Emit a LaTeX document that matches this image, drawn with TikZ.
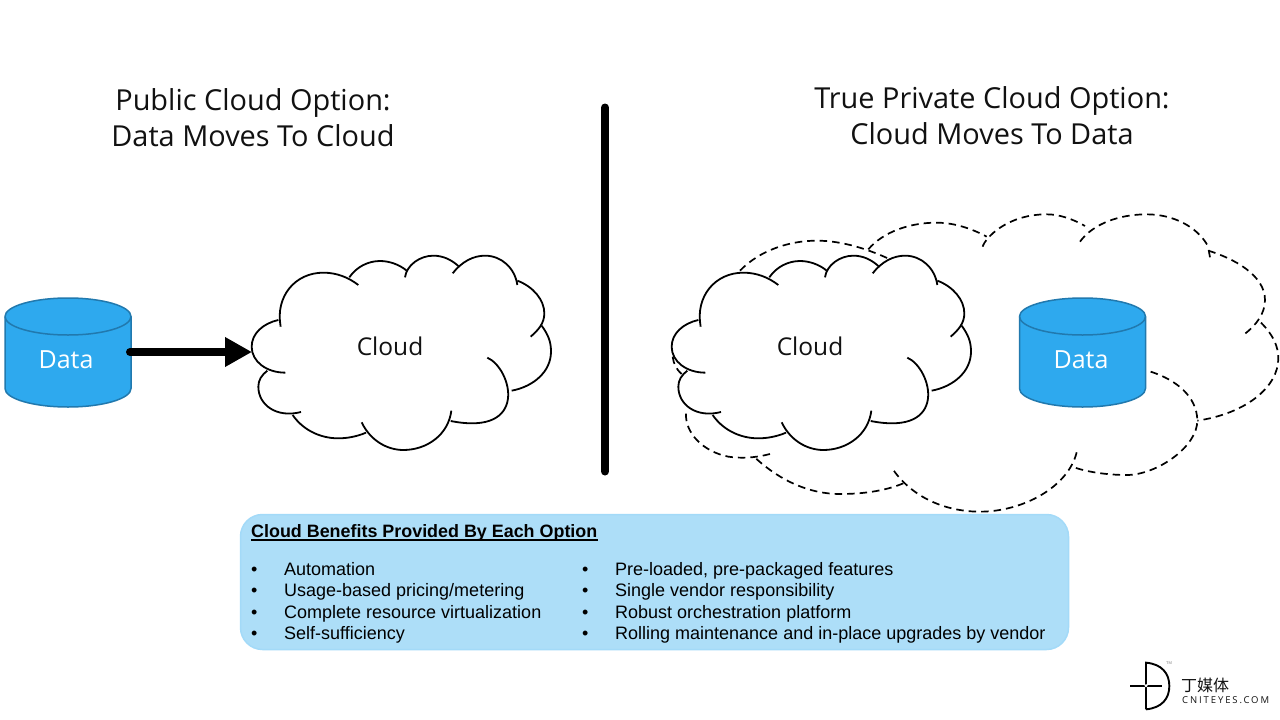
\documentclass[tikz,border=0pt]{standalone}
\usepackage{fontspec}
\setmainfont{Liberation Sans}
\newfontfamily\headfont{Open Sans}
\newfontfamily\cjkfont{Noto Sans CJK SC}
\newfontfamily\spacedfont[LetterSpace=20]{Open Sans}
\usetikzlibrary{arrows.meta}
\definecolor{cylfill}{HTML}{2EA9EE}
\definecolor{cylline}{HTML}{2179AE}
\definecolor{boxfill}{HTML}{ADDEF8}
\definecolor{boxline}{HTML}{A3DAF8}
\definecolor{inktext}{HTML}{111111}
\newcommand{\cloudshape}{%
  \fill[white] (115,240)--(115,210)--(150,130)--(250,98)--(328,112)--(360,80)--(415,63)--(465,72)--(500,92)--(510,75)--(580,47)--(625,55)--(655,78)--(670,65)--(735,47)--(790,65)--(832,122)--(880,150)--(912,210)--(905,257)--(930,300)--(930,360)--(890,420)--(815,452)--(790,510)--(700,555)--(632,543)--(560,620)--(490,630)--(420,610)--(378,578)--(290,595)--(210,575)--(158,525)--(80,505)--(55,440)--(82,392)--(45,355)--(35,320)--(55,265)--cycle;
  \draw[cloudline] (122,260) .. controls (105,170) and (165,98) .. (250,98) .. controls (290,98) and (325,112) .. (355,135);
  \draw[cloudline] (328,112) .. controls (350,80) and (385,63) .. (420,63) .. controls (450,63) and (480,75) .. (500,92);
  \draw[cloudline] (495,112) .. controls (500,75) and (540,47) .. (580,47) .. controls (610,47) and (635,60) .. (655,78);
  \draw[cloudline] (638,100) .. controls (665,65) and (700,47) .. (735,47) .. controls (785,47) and (825,85) .. (832,135);
  \draw[cloudline] (832,122) .. controls (880,140) and (913,180) .. (913,220) .. controls (913,250) and (895,270) .. (872,290);
  \draw[cloudline] (905,257) .. controls (925,285) and (933,305) .. (933,335) .. controls (933,395) and (880,440) .. (815,452);
  \draw[cloudline] (742,353) .. controls (815,385) and (870,590) .. (632,543);
  \draw[cloudline] (634,512) .. controls (625,585) and (560,630) .. (490,630) .. controls (440,630) and (390,600) .. (365,547);
  \draw[cloudline] (378,578) .. controls (350,590) and (320,595) .. (295,595) .. controls (235,595) and (185,565) .. (158,525);
  \draw[cloudline] (183,516) .. controls (110,535) and (55,495) .. (55,440) .. controls (55,420) and (65,405) .. (82,392);
  \draw[cloudline] (136,398) .. controls (80,398) and (35,365) .. (35,320) .. controls (35,280) and (70,250) .. (115,240);
}
\newcommand{\cylshape}{%
  \draw[cylstyle] (0,18.5) -- (0,90.5) arc[start angle=180,end angle=0,x radius=63,y radius=18.5] -- (126,18.5) arc[start angle=0,end angle=-180,x radius=63,y radius=18.5] -- cycle;
  \draw[cylstyle,fill=none] (0,18.5) arc[start angle=180,end angle=0,x radius=63,y radius=18.5];
}
\tikzset{
  cloudline/.style={line width=1.8pt,black},
  dashline/.style={line width=1.7pt,black,dash pattern=on 7.5pt off 5pt},
  cylstyle/.style={line width=1.5pt,draw=cylline,fill=cylfill},
  heading/.style={font=\headfont\fontsize{28.9}{35}\selectfont,text=inktext,anchor=base,inner sep=0pt},
  cloudlabel/.style={font=\headfont\fontsize{24.5}{30}\selectfont,text=inktext,inner sep=0pt},
  datalabel/.style={font=\headfont\fontsize{25}{30}\selectfont,text=white,inner sep=0pt},
  listtext/.style={font=\fontsize{18}{21}\selectfont,text=black,anchor=base west,inner sep=0pt},
  ghost/.style={inner sep=0pt,outer sep=0pt},
}
\begin{document}
\begin{tikzpicture}[x=1pt,y=-1pt]
\useasboundingbox (0,0) rectangle (1280,720);
\fill[white] (0,0) rectangle (1280,720);

% headings
\node[heading] (headL1) at (253,110.5) {Public Cloud Option:};
\node[heading] (headL2) at (253,146) {Data Moves To Cloud};
\node[heading] (headR1) at (992,108.5) {True Private Cloud Option:};
\node[heading] (headR2) at (992,144) {Cloud Moves To Data};

% divider
\node[ghost,minimum width=8pt,minimum height=372pt] (divider) at (605,289.5) {};
\draw[line width=8pt,line cap=round,black] ([yshift=-4pt]divider.north) -- ([yshift=4pt]divider.south);

% left cylinder
\begin{scope}[shift={(5,298)}]\cylshape\end{scope}
\node[ghost,minimum width=126pt,minimum height=110pt] (dataL) at (68,352) {};
\node[datalabel] (dataLtext) at (66,360) {Data};

% left cloud
\begin{scope}[shift={(240,240)},x=0.33333pt,y=-0.33333pt]\cloudshape\end{scope}
\node[ghost,minimum width=300pt,minimum height=196pt] (cloudL) at (402,352) {};
\node[cloudlabel] (cloudLtext) at (390,346) {Cloud};

% arrow
\draw[line width=8pt,line cap=round,black,-{Triangle[length=27pt,width=28pt]}] ([xshift=-1pt]dataL.east) -- (cloudL.west);

% dashed cloud
\begin{scope}[shift={(660,200)},x=0.33333pt,y=-0.33333pt]
  \draw[dashline] (240,212) .. controls (300,150) and (390,122) .. (470,122) .. controls (550,122) and (630,150) .. (690,178);
  \draw[dashline] (625,148) .. controls (670,95) and (750,68) .. (830,68) .. controls (885,68) and (940,88) .. (980,110);
  \draw[dashline] (968,140) .. controls (975,115) and (1040,43) .. (1160,43) .. controls (1200,43) and (1240,58) .. (1275,78);
  \draw[dashline] (1260,125) .. controls (1300,70) and (1380,43) .. (1460,43) .. controls (1540,43) and (1610,80) .. (1642,135);
  \draw[dashline] (1650,172) -- (1646,150);
  \draw[dashline] (1645,152) .. controls (1720,175) and (1815,225) .. (1815,300) .. controls (1815,340) and (1790,375) .. (1750,405);
  \draw[dashline] (1803,368) .. controls (1840,405) and (1855,440) .. (1855,475) .. controls (1855,560) and (1760,640) .. (1612,662);
  \draw[dashline] (1472,515) .. controls (1550,540) and (1610,590) .. (1612,660) .. controls (1614,740) and (1490,825) .. (1400,825) .. controls (1350,825) and (1290,818) .. (1245,803);
  \draw[dashline] (1250,757) .. controls (1225,860) and (1090,935) .. (960,935) .. controls (860,935) and (760,895) .. (700,810);
  \draw[dashline] (730,850) .. controls (670,875) and (600,882) .. (540,882) .. controls (430,882) and (340,825) .. (282,770);
  \draw[dashline] (330,762) .. controls (280,775) and (240,775) .. (205,770) .. controls (130,755) and (75,700) .. (78,640);
  \draw[dashline] (38,470) .. controls (40,490) and (50,510) .. (65,522);
\end{scope}

% right cylinder
\begin{scope}[shift={(1019.5,298)}]\cylshape\end{scope}
\node[datalabel] (dataRtext) at (1081,360) {Data};

% middle cloud
\begin{scope}[shift={(660,200)},x=0.33333pt,y=-0.33333pt]
\begin{scope}[shift={(0,120)}]\cloudshape\end{scope}
\end{scope}
\node[cloudlabel] (cloudRtext) at (810,346) {Cloud};

% benefits box
\node[ghost,draw=boxline,fill=boxfill,line width=1.5pt,rounded corners=22pt,minimum width=828pt,minimum height=135pt] (box) at (654.5,582) {};
\node[font=\bfseries\fontsize{17.9}{21}\selectfont,anchor=base west,inner sep=0pt] (boxtitle) at (251,537) {Cloud Benefits Provided By Each Option};
\draw[line width=1.2pt,black] ([yshift=-3pt]boxtitle.base west) -- ([yshift=-3pt]boxtitle.base east);
\foreach \yy/\txtA/\txtB [count=\i] in {
  575/Automation/{Pre-loaded, pre-packaged features},
  596.5/Usage-based pricing\slash metering/Single vendor responsibility,
  618/Complete resource virtualization/Robust orchestration platform,
  639/Self-sufficiency/Rolling maintenance and in-place upgrades by vendor}{
  \node[listtext] (bulA\i) at (251,\yy) {•};
  \node[listtext] (itemA\i) at (284,\yy) {\txtA};
  \node[listtext] (bulB\i) at (582,\yy) {•};
  \node[listtext] (itemB\i) at (615,\yy) {\txtB};
}

% logo
\begin{scope}[shift={(1120,650)},x=0.33333pt,y=-0.33333pt]
  \draw[line width=1.9pt,black] (78,178) -- (78,38) .. controls (125,42) and (148,70) .. (148,108) .. controls (148,146) and (125,174) .. (78,178);
  \draw[line width=1.9pt,black] (30,107) -- (127,107);
  \fill[white] (78,107) circle[radius=5];
\end{scope}
\node[inner sep=0pt,font=\fontsize{4}{5}\selectfont,text=gray] (tm) at (1169,663.5) {TM};
\node[inner sep=0pt,font=\cjkfont\fontsize{16}{19}\selectfont,anchor=west,text=inktext] (logoCN) at (1181,685) {丁媒体};
\node[inner sep=0pt,font=\spacedfont\fontsize{9.5}{11}\selectfont,anchor=west,text=inktext] (logoEN) at (1182,700.5) {CNITEYES.COM};
\end{tikzpicture}
\end{document}
